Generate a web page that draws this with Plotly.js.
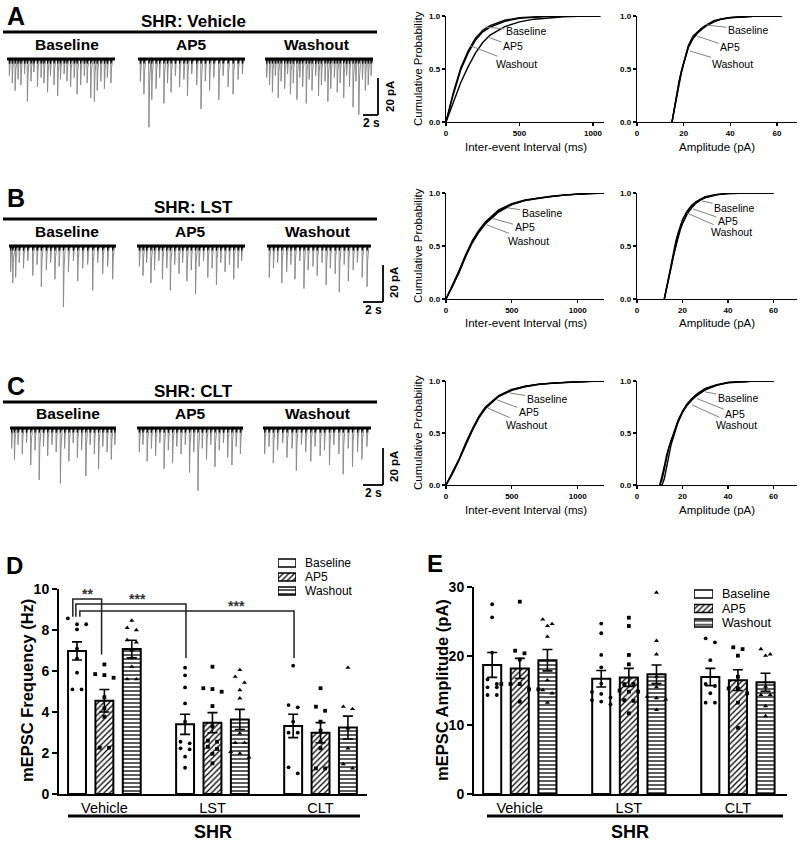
<!DOCTYPE html>
<html>
<head>
<meta charset="utf-8">
<script src="https://cdn.plot.ly/plotly-3.0.1.min.js"></script>
<style>
html,body{margin:0;padding:0;background:#ffffff;}
#chart{width:800px;height:842px;}
</style>
</head>
<body>
<div id="chart"></div>
<script>
// ================= DATA =================
const conditions = ['Baseline', 'AP5', 'Washout'];
const groups = ['Vehicle', 'LST', 'CLT'];
const rowTitles = ['SHR: Vehicle', 'SHR: LST', 'SHR: CLT'];

// ---- example mEPSC traces: event times (s) and amplitudes (pA) ----
const spikeVehBaseT = [0.3,0.7,1.1,1.5,1.9,2.4,2.8,3.3,3.7,4.2,4.7,5.1,5.6,6.0,6.5,7.0,7.4,7.9,8.3,8.8,9.3,9.7,10.2,10.7,11.1,11.6,12.1,12.5,13.0,13.5,13.9,14.4];
const spikeVehBaseA = [9,13,17,11,14,8,23,12,7,15,10,13,18,9,14,20,11,8,12,15,10,19,14,9,13,21,23,17,12,16,10,13];
const spikeVehAP5T = [0.3,0.8,1.5,1.9,2.5,3.0,3.6,4.1,4.6,5.2,5.8,6.4,6.9,7.5,8.2,8.8,9.4,10.0,10.6,11.3,11.9,12.6,13.3,14.0,14.6];
const spikeVehAP5A = [12,19,37,22,16,10,24,13,18,9,15,11,20,8,14,27,12,17,10,22,9,15,19,11,8];
const spikeVehWashT = [0.2,0.6,1.0,1.4,1.8,2.2,2.7,3.1,3.5,3.9,4.4,4.8,5.2,5.7,6.1,6.5,7.0,7.4,7.8,8.3,8.7,9.1,9.6,10.0,10.4,10.9,11.3,11.7,12.2,12.6,13.0,13.5,13.9,14.3,14.7];
const spikeVehWashA = [10,14,18,9,21,12,16,8,19,13,22,10,15,24,11,17,9,20,14,12,23,16,10,18,13,21,9,15,26,12,30,11,17,14,9];

const spikeLstBaseT = [0.2,0.5,0.9,1.4,2.0,2.6,3.3,3.9,4.5,5.2,5.8,6.4,7.0,7.6,8.3,9.0,9.6,10.3,11.0,11.7,12.4,13.1,13.8,14.5];
const spikeLstBaseA = [14,20,17,9,12,8,16,10,22,13,9,18,11,33,14,8,19,12,10,24,9,15,11,18];
const spikeLstAP5T = [0.3,0.8,1.3,1.9,2.4,3.0,3.5,4.1,4.6,5.2,5.8,6.3,6.9,7.5,8.1,8.6,9.2,9.8,10.4,11.0,11.6,12.2,12.8,13.4,14.0,14.5];
const spikeLstAP5A = [11,16,9,20,13,8,18,12,24,10,15,9,19,13,26,11,8,17,12,21,9,14,10,18,12,8];
const spikeLstWashT = [0.3,0.9,1.5,2.1,2.8,3.4,4.0,4.7,5.3,5.9,6.6,7.2,7.9,8.5,9.1,9.8,10.4,11.1,11.7,12.4,13.0,13.7,14.4];
const spikeLstWashA = [17,12,9,20,14,10,18,8,23,13,11,16,9,21,12,15,25,10,19,13,9,17,22];

const spikeCltBaseT = [0.2,0.6,1.1,1.7,2.3,2.9,3.5,4.1,4.7,5.3,5.9,6.5,7.1,7.7,8.3,8.9,9.5,10.1,10.7,11.3,11.9,12.5,13.1,13.7,14.3,14.8];
const spikeCltBaseA = [11,17,9,14,8,20,12,28,10,15,9,13,30,11,18,8,16,12,26,9,14,22,10,13,17,9];
const spikeCltAP5T = [0.3,0.8,1.4,2.0,2.6,3.2,3.8,4.4,5.0,5.6,6.2,6.8,7.4,8.0,8.6,9.2,9.8,10.4,11.0,11.6,12.2,12.8,13.4,14.0,14.6];
const spikeCltAP5A = [13,9,18,11,15,8,22,12,19,10,14,9,24,13,34,11,17,9,21,12,8,16,20,10,14];
const spikeCltWashT = [0.2,0.8,1.4,2.0,2.7,3.3,4.0,4.6,5.3,5.9,6.6,7.2,7.9,8.5,9.2,9.8,10.5,11.1,11.8,12.4,13.1,13.7,14.4];
const spikeCltWashA = [14,10,19,12,8,16,11,23,9,13,18,10,15,12,20,9,14,25,11,21,13,17,10];

// ---- cumulative probability curves ----
const ieiX_Veh = [0,50,100,150,200,250,300,400,500,600,700,800,900,1000,1050];
const ieiVeh_Baseline = [0,0.26,0.49,0.65,0.77,0.85,0.895,0.95,0.978,0.99,0.996,0.999,1,1,1];
const ieiVeh_AP5 = [0,0.18,0.37,0.52,0.65,0.75,0.82,0.90,0.945,0.97,0.985,0.993,0.998,1,1];
const ieiVeh_Washout = [0,0.28,0.51,0.67,0.79,0.865,0.91,0.96,0.985,0.995,0.999,1,1,1,1];
const ampX_Veh = [15,16,17,18,19,20,21,22,24,26,28,30,33,36,40,45,50,55,62];
const ampVeh_Baseline = [0,0.13,0.25,0.37,0.47,0.56,0.64,0.71,0.80,0.85,0.885,0.915,0.95,0.97,0.985,0.993,0.997,0.999,1];
const ampVeh_AP5 = [0,0.12,0.24,0.36,0.46,0.55,0.63,0.70,0.785,0.84,0.878,0.91,0.945,0.968,0.983,0.992,0.997,0.999,1];
const ampVeh_Washout = [0,0.14,0.26,0.38,0.48,0.57,0.65,0.72,0.81,0.855,0.89,0.92,0.955,0.972,0.987,0.994,0.998,1,1];

const ieiX_LstClt = [0,50,100,150,200,250,300,400,500,600,700,800,900,1000,1100,1200];
const ieiLst_Baseline = [0,0.13,0.27,0.42,0.55,0.65,0.73,0.84,0.90,0.935,0.955,0.97,0.982,0.99,0.996,1];
const ieiLst_AP5 = [0,0.12,0.26,0.41,0.54,0.64,0.72,0.83,0.895,0.93,0.952,0.968,0.98,0.99,0.996,1];
const ieiLst_Washout = [0,0.12,0.25,0.40,0.53,0.63,0.71,0.82,0.89,0.928,0.95,0.967,0.98,0.99,0.996,1];
const ampX_Lst = [12,13,14,15,16,17,18,19,20,22,24,26,28,30,35,40,50,60];
const ampLst_Baseline = [0,0.10,0.20,0.32,0.43,0.52,0.60,0.67,0.72,0.81,0.87,0.91,0.94,0.96,0.985,0.995,0.999,1];
const ampLst_AP5 = [0,0.09,0.19,0.30,0.41,0.50,0.58,0.65,0.71,0.80,0.86,0.905,0.935,0.955,0.982,0.994,0.999,1];
const ampLst_Washout = [0,0.11,0.22,0.34,0.45,0.54,0.62,0.69,0.75,0.83,0.885,0.92,0.945,0.965,0.987,0.996,1,1];

const ieiClt_Baseline = [0,0.12,0.25,0.40,0.54,0.66,0.75,0.86,0.92,0.95,0.97,0.98,0.988,0.994,0.998,1];
const ieiClt_AP5 = [0,0.12,0.25,0.40,0.535,0.655,0.745,0.855,0.915,0.947,0.968,0.979,0.987,0.993,0.998,1];
const ieiClt_Washout = [0,0.11,0.24,0.39,0.525,0.645,0.735,0.85,0.91,0.945,0.966,0.978,0.987,0.993,0.998,1];
const ampX_Clt = [10,11,12,13,14,15,16,17,18,20,22,24,26,28,30,35,40,50,60];
const ampClt_Baseline = [0,0.05,0.15,0.27,0.36,0.42,0.48,0.55,0.61,0.70,0.77,0.82,0.86,0.89,0.92,0.96,0.985,0.998,1];
const ampClt_AP5 = [0,0,0.06,0.18,0.30,0.39,0.46,0.53,0.60,0.70,0.765,0.815,0.855,0.885,0.915,0.958,0.983,0.997,1];
const ampClt_Washout = [0,0.08,0.18,0.29,0.37,0.43,0.49,0.56,0.62,0.71,0.78,0.83,0.87,0.90,0.93,0.965,0.987,0.998,1];

// ---- D: mEPSC frequency (Hz) ----
const freqMean_Baseline = [6.98, 3.40, 3.32];
const freqMean_AP5 = [4.55, 3.48, 2.99];
const freqMean_Washout = [7.07, 3.64, 3.24];
const freqSem_Baseline = [0.44, 0.49, 0.57];
const freqSem_AP5 = [0.55, 0.49, 0.49];
const freqSem_Washout = [0.43, 0.49, 0.56];
const freq_Vehicle_Baseline = [8.57, 8.28, 8.28, 8.03, 7.1, 6.62, 5.92, 5.1, 5.1];
const freq_Vehicle_AP5 = [6.32, 5.85, 5.8, 5.67, 4.72, 4.18, 3.77, 2.26, 2.26];
const freq_Vehicle_Washout = [8.46, 8.11, 8.0, 7.51, 7.4, 7.02, 6.65, 6.21, 5.6, 5.6];
const freq_LST_Baseline = [6.16, 5.79, 5.2, 4.42, 3.53, 2.55, 2.47, 2.23, 2.18, 1.82, 1.28];
const freq_LST_AP5 = [6.21, 5.16, 5.12, 4.99, 4.29, 3.3, 2.6, 2.55, 2.3, 2.2, 1.96, 1.5];
const freq_LST_Washout = [6.05, 5.72, 5.43, 5.07, 4.67, 2.96, 2.5, 2.5, 2.06, 1.98, 1.79];
const freq_CLT_Baseline = [6.26, 4.34, 4.23, 3.53, 2.99, 2.99, 1.3, 1.01];
const freq_CLT_AP5 = [5.16, 4.26, 4.06, 3.53, 3.09, 2.55, 2.23, 1.25, 1.25];
const freq_CLT_Washout = [6.16, 4.26, 4.15, 3.2, 2.23, 1.46, 1.25];

// ---- E: mEPSC amplitude (pA) ----
const ampMean_Baseline = [18.7, 16.7, 16.96];
const ampMean_AP5 = [18.2, 16.9, 16.5];
const ampMean_Washout = [19.4, 17.35, 16.2];
const ampSem_Baseline = [1.8, 1.2, 1.25];
const ampSem_AP5 = [1.45, 1.3, 1.5];
const ampSem_Washout = [1.55, 1.35, 1.3];
const amp_Vehicle_Baseline = [27.5, 25.6, 20.5, 16.6, 15.94, 15.46, 15.46, 14.35, 14.35];
const amp_Vehicle_AP5 = [27.87, 20.77, 20.39, 19.5, 15.94, 15.94, 15.94, 15.17, 15.17, 13.38];
const amp_Vehicle_Washout = [25.3, 24.64, 24.35, 22.8, 16.5, 15.07, 14.6, 13.24];
const amp_LST_Baseline = [24.7, 23.3, 20.15, 18.36, 16.0, 14.8, 14.5, 14.0, 13.6, 13.4, 13.0];
const amp_LST_AP5 = [25.55, 24.35, 20.15, 18.8, 15.94, 15.94, 15.0, 14.83, 14.83, 13.6, 13.5, 11.7];
const amp_LST_Washout = [29.2, 22.2, 20.25, 17.0, 15.5, 14.1, 13.9, 13.7, 12.2];
const amp_CLT_Baseline = [22.56, 21.98, 19.4, 15.94, 15.65, 14.6, 13.24, 13.24];
const amp_CLT_AP5 = [21.26, 21.0, 20.05, 17.0, 15.3, 15.3, 14.6, 13.24, 9.6];
const amp_CLT_Washout = [21.0, 20.25, 20.05, 15.56, 14.35, 14.35, 12.75, 11.3];

// ================= LAYOUT HELPERS =================
const W = 800, H = 842;
const FONT = 'Arial, "Liberation Sans", Helvetica, sans-serif';
const fx = p => p / W, fy = p => 1 - p / H;
const layout = {
  width: W, height: H, margin: {l: 0, r: 0, t: 0, b: 0},
  paper_bgcolor: '#ffffff', plot_bgcolor: 'rgba(0,0,0,0)',
  showlegend: false, font: {family: FONT, color: '#000'},
  barmode: 'group', bargap: 0.24, bargroupgap: 0.345,
  annotations: [], shapes: []
};
const data = [];
let axN = 0;
function addAxes(xd, yd, xo, yo) {
  axN++;
  const s = axN === 1 ? '' : String(axN);
  layout['xaxis' + s] = Object.assign({domain: [fx(xd[0]), fx(xd[1])], anchor: 'y' + s, fixedrange: true, showgrid: false, zeroline: false}, xo);
  layout['yaxis' + s] = Object.assign({domain: [fy(yd[1]), fy(yd[0])], anchor: 'x' + s, fixedrange: true, showgrid: false, zeroline: false}, yo);
  return {x: 'x' + s, y: 'y' + s};
}
function txt(text, px, py, size, opts) {
  layout.annotations.push(Object.assign({
    text: text, x: fx(px), y: fy(py), xref: 'paper', yref: 'paper', showarrow: false,
    xanchor: 'center', yanchor: 'middle', font: {family: FONT, size: size, color: '#000'}
  }, opts || {}));
}
function hline(x0, x1, y, w) {
  layout.shapes.push({type: 'line', xref: 'paper', yref: 'paper', x0: fx(x0), x1: fx(x1), y0: fy(y), y1: fy(y), line: {color: '#000', width: w}});
}
function vline(x, y0, y1, w) {
  layout.shapes.push({type: 'line', xref: 'paper', yref: 'paper', x0: fx(x), x1: fx(x), y0: fy(y0), y1: fy(y1), line: {color: '#000', width: w}});
}

// ================= PANELS A-C: TRACES =================
const traceSets = [
  [[spikeVehBaseT, spikeVehBaseA], [spikeVehAP5T, spikeVehAP5A], [spikeVehWashT, spikeVehWashA]],
  [[spikeLstBaseT, spikeLstBaseA], [spikeLstAP5T, spikeLstAP5A], [spikeLstWashT, spikeLstWashA]],
  [[spikeCltBaseT, spikeCltBaseA], [spikeCltAP5T, spikeCltAP5A], [spikeCltWashT, spikeCltWashA]]
];
const rowCfg = [
  {letter: 'A', letterY: 16, titleY: 22, lineY: 32, labY: 45, base: 59, xs: [[7,115],[138,245],[265,373]], labX: [67,191,316],
   sb: {vx: 378, v0: 78, v1: 115, h0: 363, pa: [390, 97], s: [371, 123]}},
  {letter: 'B', letterY: 198, titleY: 208, lineY: 219, labY: 231, base: 246, xs: [[9,116],[137,245],[267,371]], labX: [67,190,317],
   sb: {vx: 383, v0: 265, v1: 302, h0: 363, pa: [394, 283], s: [373, 310]}},
  {letter: 'C', letterY: 386, titleY: 391, lineY: 402, labY: 413, base: 428, xs: [[10,116],[137,243],[263,371]], labX: [68,190,317],
   sb: {vx: 383, v0: 448, v1: 485, h0: 363, pa: [394, 467], s: [373, 493]}}
];
const TDUR = 15;
function spikePath(ts, amps, cap) {
  const x = [0], y = [0];
  ts.forEach((t, i) => {
    const a = cap ? Math.min(amps[i], cap) : amps[i];
    x.push(t, t + 0.03, t + 0.12, t + 0.3);
    y.push(0, -a, -a * 0.35, 0);
  });
  x.push(TDUR); y.push(0);
  return {x, y};
}
rowCfg.forEach((rc, r) => {
  txt(rc.letter, 16, rc.letterY, 25, {font: {family: FONT, size: 25, color: '#000', weight: 'bold'}});
  txt(rowTitles[r], 193, rc.titleY, 17, {font: {family: FONT, size: 17, color: '#000', weight: 'bold'}});
  hline(3, 377, rc.lineY, 3);
  traceSets[r].forEach((tr, c) => {
    txt(conditions[c], rc.labX[c], rc.labY, 15.5, {font: {family: FONT, size: 15.5, color: '#000', weight: 'bold'}});
    const ax = addAxes(rc.xs[c], [rc.base - 9, rc.base + 71], {range: [0, TDUR], visible: false}, {range: [-38.4, 4.9], visible: false});
    const full = spikePath(tr[0], tr[1], 0);
    const top = spikePath(tr[0], tr[1], 2.5);
    data.push({type: 'scatter', mode: 'lines', x: full.x, y: full.y, line: {color: '#8c8c8c', width: 1}, xaxis: ax.x, yaxis: ax.y, hoverinfo: 'skip', cliponaxis: false});
    data.push({type: 'scatter', mode: 'lines', x: top.x, y: top.y, line: {color: '#111', width: 1.1}, xaxis: ax.x, yaxis: ax.y, hoverinfo: 'skip', cliponaxis: false});
    data.push({type: 'scatter', mode: 'lines', x: [0, TDUR], y: [0, 0], line: {color: '#000', width: 3}, xaxis: ax.x, yaxis: ax.y, hoverinfo: 'skip', cliponaxis: false});
  });
  // scale bar
  vline(rc.sb.vx, rc.sb.v0, rc.sb.v1, 1.8);
  hline(rc.sb.h0, rc.sb.vx, rc.sb.v1, 1.8);
  txt('20 pA', rc.sb.pa[0], rc.sb.pa[1], 11.5, {textangle: -90, font: {family: FONT, size: 11.5, color: '#000', weight: 'bold'}});
  txt('2 s', rc.sb.s[0], rc.sb.s[1], 12, {font: {family: FONT, size: 12, color: '#000', weight: 'bold'}});
});

// ================= CUMULATIVE PLOTS =================
const tickFontSmall = {family: FONT, size: 8, color: '#000', weight: 'bold'};
function cumAxes(xd, yd, xmax, tickvals) {
  const common = {showline: true, linecolor: '#000', linewidth: 1.2, ticks: 'outside', ticklen: 3, tickwidth: 1.2, tickcolor: '#000', tickfont: tickFontSmall};
  return addAxes(xd, yd,
    Object.assign({range: [0, xmax], tickvals: tickvals}, common),
    Object.assign({range: [0, 1], tickvals: [0, 0.5, 1], ticktext: ['0.0', '0.5', '1.0']}, common));
}
const cumPanels = [
  {yd: [16, 122], ieiX: ieiX_Veh, iei: [ieiVeh_Baseline, ieiVeh_AP5, ieiVeh_Washout], ieiMax: 1075,
   ampX: ampX_Veh, amp: [ampVeh_Baseline, ampVeh_AP5, ampVeh_Washout], ampMax: 68.6,
   ieiLab: [[265, 0.896, 41, 4], [286, 0.80, 25, 9], [163, 0.72, 47, 18]],
   ampLab: [[29.6, 0.916, 42, 5], [25.8, 0.81, 33, 11], [22.7, 0.67, 43, 13]], titleY: 147},
  {yd: [193, 299], ieiX: ieiX_LstClt, iei: [ieiLst_Baseline, ieiLst_AP5, ieiLst_Washout], ieiMax: 1200,
   ampX: ampX_Lst, amp: [ampLst_Baseline, ampLst_AP5, ampLst_Washout], ampMax: 70.3,
   ieiLab: [[468, 0.86, 34, 5], [355, 0.76, 32, 9], [309, 0.70, 42, 16]],
   ampLab: [[28.6, 0.925, 32, 7], [24.6, 0.85, 35, 12], [22, 0.81, 44, 19]], titleY: 323},
  {yd: [381, 485], ieiX: ieiX_LstClt, iei: [ieiClt_Baseline, ieiClt_AP5, ieiClt_Washout], ieiMax: 1200,
   ampX: ampX_Clt, amp: [ampClt_Baseline, ampClt_AP5, ampClt_Washout], ampMax: 70.3,
   ieiLab: [[483, 0.885, 37, 6], [385, 0.82, 32, 12], [317, 0.74, 39, 17]],
   ampLab: [[29.9, 0.895, 33, 6], [26.4, 0.83, 38, 15], [24.2, 0.77, 44, 20]], titleY: 510}
];
const labelFont = {family: FONT, size: 10.5, color: '#000'};
function curveLabels(ax, labs) {
  labs.forEach((l, i) => {
    layout.annotations.push({text: conditions[i], xref: ax.x, yref: ax.y, x: l[0], y: l[1], ax: l[2], ay: l[3],
      showarrow: true, arrowhead: 0, arrowwidth: 1, arrowcolor: '#808080', standoff: 0, font: labelFont});
  });
}
cumPanels.forEach(cp => {
  const a1 = cumAxes([446, 604], cp.yd, cp.ieiMax, [0, 500, 1000]);
  cp.iei.forEach(yv => data.push({type: 'scatter', mode: 'lines', x: cp.ieiX, y: yv, line: {color: '#000', width: 1.4}, xaxis: a1.x, yaxis: a1.y, cliponaxis: false, hoverinfo: 'skip'}));
  curveLabels(a1, cp.ieiLab);
  const a2 = cumAxes([637, 797], cp.yd, cp.ampMax, [0, 20, 40, 60]);
  cp.amp.forEach(yv => data.push({type: 'scatter', mode: 'lines', x: cp.ampX, y: yv, line: {color: '#000', width: 1.4}, xaxis: a2.x, yaxis: a2.y, cliponaxis: false, hoverinfo: 'skip'}));
  curveLabels(a2, cp.ampLab);
  txt('Inter-event Interval (ms)', 526, cp.titleY, 11.5);
  txt('Amplitude (pA)', 717, cp.titleY, 11.5);
  txt('Cumulative Probability', 418, (cp.yd[0] + cp.yd[1]) / 2, 11.5, {textangle: -90});
});

// ================= D & E BAR CHARTS =================
const patterns = ['', '/', '-'];
const symbols = ['circle', 'square', 'triangle-up'];
const SLOT = (1 - layout.bargap) / 3;
function spread(vals, thr, step) {
  const idx = vals.map((v, i) => i).sort((a, b) => vals[b] - vals[a]);
  const off = new Array(vals.length).fill(0);
  let cl = [];
  const flush = () => { cl.forEach((k, j) => { off[k] = (j - (cl.length - 1) / 2) * step; }); cl = []; };
  idx.forEach(k => { if (cl.length && vals[cl[0]] - vals[k] > thr) flush(); cl.push(k); });
  flush();
  return off;
}
function barPanel(ax, means, sems, pts, thr) {
  conditions.forEach((cond, i) => {
    data.push({type: 'bar', name: cond, x: [0, 1, 2], y: means[i], xaxis: ax.x, yaxis: ax.y, hoverinfo: 'skip',
      marker: {color: '#fff', line: {color: '#000', width: 2},
        pattern: {shape: patterns[i], fgcolor: '#000', bgcolor: '#fff', size: 4, solidity: 0.32}},
      error_y: {type: 'data', array: sems[i], visible: true, color: '#000', thickness: 1.6, width: 5}});
  });
  conditions.forEach((cond, i) => {
    const xs = [], ys = [];
    pts[i].forEach((vals, g) => {
      const off = spread(vals, thr, 0.085);
      vals.forEach((v, k) => { xs.push(g + (i - 1) * SLOT + off[k]); ys.push(v); });
    });
    data.push({type: 'scatter', mode: 'markers', x: xs, y: ys, xaxis: ax.x, yaxis: ax.y, cliponaxis: false, hoverinfo: 'skip',
      marker: {symbol: symbols[i], size: i === 2 ? 4.5 : 3.8, color: '#000', line: {width: 0}}});
  });
}
function barAxes(xd, yd, xr, yr, ytv) {
  return addAxes(xd, yd,
    {range: xr, tickvals: [0, 1, 2], ticktext: groups, showline: true, linecolor: '#000', linewidth: 2, ticks: '',
     tickfont: {family: FONT, size: 14.5, color: '#000'}},
    {range: yr, tickvals: ytv, showline: true, linecolor: '#000', linewidth: 2, ticks: 'outside', ticklen: 5, tickwidth: 2, tickcolor: '#000',
     tickfont: {family: FONT, size: 14, color: '#000', weight: 'bold'}});
}
function legendBox(xd, yd, rowYs, textX, fsize) {
  const ax = addAxes(xd, yd, {range: [0, 1], visible: false}, {type: 'category', range: [2.5, -0.5], visible: false});
  data.push({type: 'bar', orientation: 'h', x: [1, 1, 1], y: conditions, width: 8 / ((yd[1] - yd[0]) / 3), xaxis: ax.x, yaxis: ax.y, hoverinfo: 'skip',
    marker: {color: '#fff', line: {color: '#000', width: 1.5}, pattern: {shape: patterns, fgcolor: '#000', bgcolor: '#fff', size: 4, solidity: 0.32}}});
  conditions.forEach((c, i) => txt(c, textX, rowYs[i], fsize, {xanchor: 'left'}));
}

// ---- D ----
const dAx = barAxes([59, 367], [589, 794], [-0.42, 2.43], [0, 10], [0, 2, 4, 6, 8, 10]);
barPanel(dAx, [freqMean_Baseline, freqMean_AP5, freqMean_Washout], [freqSem_Baseline, freqSem_AP5, freqSem_Washout],
  [[freq_Vehicle_Baseline, freq_LST_Baseline, freq_CLT_Baseline],
   [freq_Vehicle_AP5, freq_LST_AP5, freq_CLT_AP5],
   [freq_Vehicle_Washout, freq_LST_Washout, freq_CLT_Washout]], 0.3);
legendBox([278, 296], [556, 598], [563, 577, 591], 303, 12);
txt('D', 14, 565, 24, {font: {family: FONT, size: 24, color: '#000', weight: 'bold'}});
txt('mEPSC Frequency (Hz)', 27, 691, 16.5, {textangle: -90, font: {family: FONT, size: 16.5, color: '#000', weight: 'bold'}});
hline(68, 360, 816, 3);
txt('SHR', 213, 832, 18, {font: {family: FONT, size: 18, color: '#000', weight: 'bold'}});
// significance brackets (x in group units, y in Hz)
const sigBrackets = [
  {x0: -0.292, x1: -0.026, top: 9.51, bot0: 8.65, bot1: 6.8, label: '**', lx: -0.155, ly: 9.75},
  {x0: -0.264, x1: 0.755, top: 9.27, bot0: 8.65, bot1: 6.63, label: '***', lx: 0.31, ly: 9.5},
  {x0: -0.227, x1: 1.755, top: 8.93, bot0: 8.65, bot1: 6.63, label: '***', lx: 1.218, ly: 9.15}
];
sigBrackets.forEach(b => {
  const ln = {color: '#222', width: 1.5};
  layout.shapes.push({type: 'path', xref: dAx.x, yref: dAx.y,
    path: `M${b.x0},${b.bot0} L${b.x0},${b.top} L${b.x1},${b.top} L${b.x1},${b.bot1}`, line: ln});
  layout.annotations.push({text: b.label, xref: dAx.x, yref: dAx.y, x: b.lx, y: b.ly, showarrow: false, yanchor: 'middle',
    font: {family: FONT, size: 14, color: '#333', weight: 'bold'}});
});

// ---- E ----
const eAx = barAxes([474, 787], [587, 794], [-0.42, 2.45], [0, 30], [0, 10, 20, 30]);
barPanel(eAx, [ampMean_Baseline, ampMean_AP5, ampMean_Washout], [ampSem_Baseline, ampSem_AP5, ampSem_Washout],
  [[amp_Vehicle_Baseline, amp_LST_Baseline, amp_CLT_Baseline],
   [amp_Vehicle_AP5, amp_LST_AP5, amp_CLT_AP5],
   [amp_Vehicle_Washout, amp_LST_Washout, amp_CLT_Washout]], 0.9);
legendBox([694, 713], [586.75, 630.25], [594, 608.5, 623], 720, 12.5);
txt('E', 435, 563, 24, {font: {family: FONT, size: 24, color: '#000', weight: 'bold'}});
txt('mEPSC Amplitude (pA)', 442, 690, 16.5, {textangle: -90, font: {family: FONT, size: 16.5, color: '#000', weight: 'bold'}});
hline(487, 783, 816, 3);
txt('SHR', 630, 832, 18, {font: {family: FONT, size: 18, color: '#000', weight: 'bold'}});

Plotly.newPlot('chart', data, layout, {staticPlot: true, displayModeBar: false});
</script>
</body>
</html>
